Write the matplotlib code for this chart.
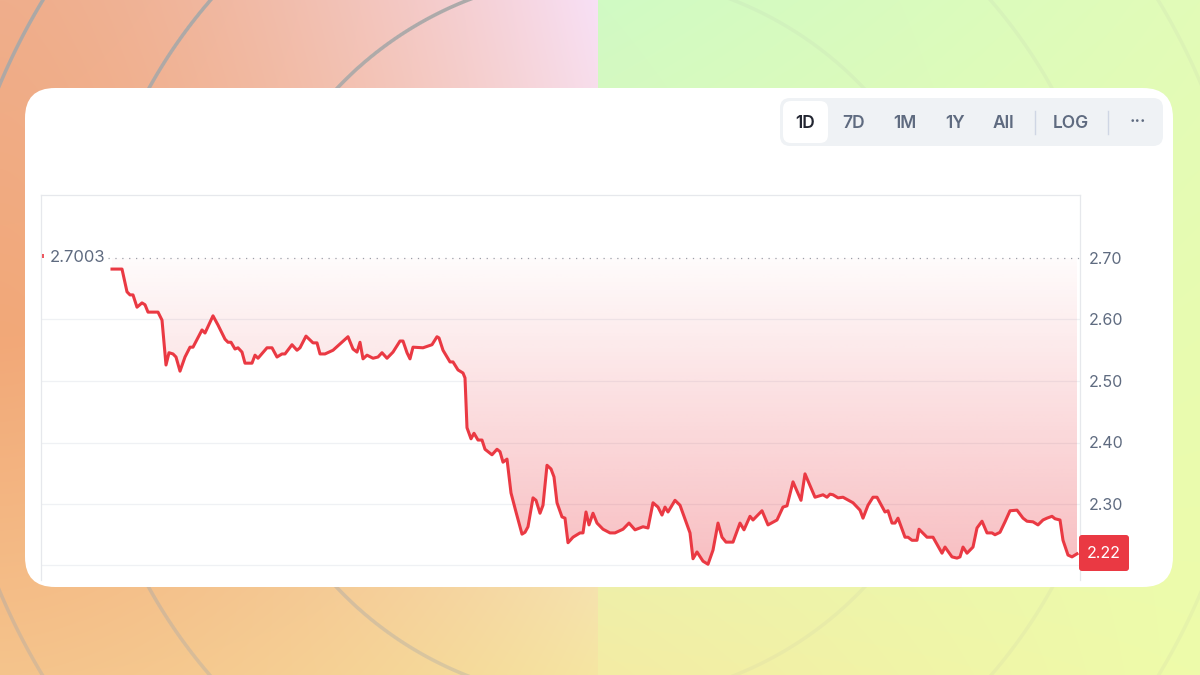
import matplotlib
matplotlib.use("Agg")
import matplotlib.pyplot as plt
import numpy as np
from matplotlib.patches import FancyBboxPatch, Polygon

plt.rcParams['font.family'] = ['Inter', 'DejaVu Sans']

# price trace (t = position along the day)
t = [112, 122, 127, 130, 133, 137, 142, 145, 148, 158, 162, 166, 169, 173, 176, 180, 185, 190, 193, 202,
     205, 213, 218, 225, 228, 231, 235, 238, 242, 245, 252, 255, 258, 267, 272, 277, 282, 285, 292, 297,
     300, 306, 313, 317, 320, 325, 333, 348, 353, 357, 360, 363, 367, 373, 378, 382, 387, 393, 400, 403,
     407, 410, 413, 423, 432, 437, 439, 443, 450, 453, 458, 463, 465, 467, 471, 474, 478, 482, 485, 492,
     497, 500, 503, 507, 511, 516, 522, 525, 528, 533, 536, 540, 543, 547, 551, 554, 557, 562, 565, 568,
     573, 580, 583, 586, 589, 593, 597, 603, 610, 615, 623, 629, 635, 643, 648, 653, 658, 662, 665, 668,
     675, 680, 690, 693, 697, 703, 708, 713, 718, 722, 726, 733, 740, 744, 750, 753, 762, 768, 777, 783,
     787, 793, 801, 805, 815, 823, 827, 830, 833, 838, 843, 853, 860, 863, 868, 873, 877, 885, 888, 892,
     895, 898, 905, 908, 912, 917, 919, 927, 933, 942, 945, 952, 957, 960, 963, 967, 973, 977, 982, 987,
     992, 995, 1000, 1005, 1010, 1017, 1023, 1027, 1033, 1038, 1043, 1047, 1052, 1055, 1060, 1063, 1068,
     1072, 1077]
price = [2.682, 2.682, 2.645, 2.640, 2.640, 2.620, 2.627, 2.624, 2.612, 2.612, 2.599, 2.526, 2.546, 2.544,
         2.539, 2.516, 2.539, 2.555, 2.555, 2.583, 2.578, 2.606, 2.591, 2.568, 2.563, 2.563, 2.552, 2.554,
         2.547, 2.529, 2.529, 2.542, 2.537, 2.554, 2.554, 2.539, 2.544, 2.544, 2.559, 2.550, 2.554, 2.573,
         2.562, 2.562, 2.544, 2.544, 2.550, 2.572, 2.552, 2.547, 2.563, 2.536, 2.542, 2.537, 2.539, 2.546,
         2.537, 2.547, 2.565, 2.565, 2.546, 2.536, 2.555, 2.554, 2.559, 2.572, 2.570, 2.550, 2.531, 2.531,
         2.518, 2.513, 2.505, 2.424, 2.406, 2.415, 2.404, 2.404, 2.389, 2.380, 2.389, 2.385, 2.368, 2.373,
         2.318, 2.287, 2.251, 2.254, 2.263, 2.310, 2.306, 2.285, 2.298, 2.363, 2.357, 2.344, 2.302, 2.279,
         2.277, 2.237, 2.246, 2.253, 2.253, 2.287, 2.266, 2.285, 2.269, 2.259, 2.253, 2.253, 2.259, 2.269,
         2.258, 2.263, 2.261, 2.302, 2.295, 2.282, 2.295, 2.287, 2.306, 2.298, 2.253, 2.211, 2.222, 2.207,
         2.202, 2.225, 2.269, 2.246, 2.238, 2.238, 2.269, 2.258, 2.280, 2.274, 2.289, 2.266, 2.274, 2.295,
         2.297, 2.336, 2.306, 2.349, 2.311, 2.315, 2.311, 2.316, 2.315, 2.310, 2.311, 2.302, 2.290, 2.277,
         2.298, 2.311, 2.311, 2.287, 2.289, 2.269, 2.269, 2.277, 2.246, 2.246, 2.241, 2.241, 2.259, 2.246,
         2.246, 2.220, 2.230, 2.214, 2.212, 2.214, 2.230, 2.220, 2.230, 2.261, 2.272, 2.253, 2.253, 2.250,
         2.254, 2.271, 2.289, 2.290, 2.277, 2.272, 2.271, 2.266, 2.274, 2.277, 2.280, 2.276, 2.274, 2.241,
         2.217, 2.214, 2.219]
open_price = 2.7003
last_label = '2.22'
yticks = [2.30, 2.40, 2.50, 2.60, 2.70]
gridlines = [2.20, 2.30, 2.40, 2.50, 2.60]
buttons = ['1D', '7D', '1M', '1Y', 'All', 'LOG', '\u00b7\u00b7\u00b7']

RED = '#ea3943'
GREY_TXT = '#5f6b80'

W, H = 1200, 675
fig = plt.figure(figsize=(12, 6.75), dpi=100)


def rgb(h):
    return np.array([int(h[i:i + 2], 16) for i in (1, 3, 5)]) / 255.0


# ---- decorative background -------------------------------------------------
yy, xx = np.mgrid[0:H, 0:W].astype(float)
img = np.zeros((H, W, 3))
ys = [0, 337, 675]
l_left = [rgb(c) for c in ['#efae8c', '#f2a878', '#f5c48c']]
l_right = [rgb(c) for c in ['#f8e0f6', '#f6d8d0', '#f6e6a2']]
r_left = [rgb(c) for c in ['#d0fac4', '#e0f9b8', '#f4eca4']]
r_right = [rgb(c) for c in ['#e2fcb8', '#e8fcb0', '#eefcaa']]
s_l = np.clip(xx / 598, 0, 1) ** 1.6
s_r = np.clip((xx - 598) / 602, 0, 1)
left = xx < 598
for ch in range(3):
    a = np.interp(yy, ys, [c[ch] for c in l_left])
    b = np.interp(yy, ys, [c[ch] for c in l_right])
    c = np.interp(yy, ys, [k[ch] for k in r_left])
    d = np.interp(yy, ys, [k[ch] for k in r_right])
    img[..., ch] = np.where(left, a * (1 - s_l) + b * s_l, c * (1 - s_r) + d * s_r)

dist = np.hypot(xx - 600, yy - 337.5)
ring = np.zeros((H, W))
for r in (363, 516, 652):
    ring = np.maximum(ring, np.clip(2.3 - np.abs(dist - r), 0, 1))
ring_alpha = np.where(left, 0.95 - 0.6 * yy / H, 0.1) * ring
img = img * (1 - ring_alpha[..., None]) + 0.66 * ring_alpha[..., None]

bg = fig.add_axes([0, 0, 1, 1])
bg.imshow(img, extent=[0, W, H, 0], aspect='auto', interpolation='bilinear')
bg.set_xlim(0, W)
bg.set_ylim(H, 0)
bg.axis('off')

# card
bg.add_patch(FancyBboxPatch((25, 88), 1148, 499, boxstyle='round,pad=0,rounding_size=30',
                            facecolor='white', edgecolor='none', zorder=2))

# range buttons
bg.add_patch(FancyBboxPatch((780, 98), 383, 48, boxstyle='round,pad=0,rounding_size=10',
                            facecolor='#eff2f5', edgecolor='none', zorder=3))
bg.add_patch(FancyBboxPatch((783, 101), 45, 42, boxstyle='round,pad=0,rounding_size=8',
                            facecolor='white', edgecolor='none', zorder=4))
btn_x = [805, 854, 905, 955, 1003, 1071, 1138]
for lab, bx in zip(buttons, btn_x):
    bg.text(bx, 123, lab, ha='center', va='center', fontsize=12.5, fontweight='semibold',
            color='#222531' if lab == '1D' else GREY_TXT, zorder=5)
for sx in (1035, 1108):
    bg.plot([sx, sx], [111, 134], color='#cfd6e4', lw=1, zorder=5)

# ---- price chart -------------------------------------------------------------
ax = fig.add_axes([41 / W, 1 - 580 / H, (1080 - 41) / W, (580 - 195) / H])
ax.set_facecolor('none')
ax.set_xlim(41, 1080)
y_top = 2.70 + (258 - 195) / 615
y_bot = 2.70 - (580 - 258) / 615
ax.set_ylim(y_bot, y_top)

for g in gridlines:
    ax.axhline(g, color='#eff1f4', lw=0.9, zorder=1)
ax.plot([108, 1080], [open_price, open_price], color='#9ba1ab', lw=0.9,
        linestyle=(0, (1, 4.5)), zorder=2)

# gradient fill between the trace and the open price
verts = list(zip(t, price)) + [(t[-1], open_price), (t[0], open_price)]
clip = Polygon(verts, closed=True, facecolor='none', edgecolor='none', transform=ax.transData)
ax.add_patch(clip)
grad = np.zeros((200, 2, 4))
grad[..., :3] = rgb(RED)
grad[..., 3] = np.linspace(0.34, 0.02, 200)[:, None]
im = ax.imshow(grad, extent=[41, 1080, 2.18, open_price], aspect='auto', origin='lower',
               interpolation='bilinear', zorder=2)
im.set_clip_path(clip)

ax.plot(t, price, color=RED, lw=2.2, solid_joinstyle='round', zorder=4)

ax.plot([42.5], [open_price + 0.003], marker='|', ms=3, color=RED, mew=1.2, zorder=4)
ax.text(50, open_price, f'{open_price:.4f}', ha='left', va='center', fontsize=12,
        color=GREY_TXT, zorder=5)

ax.set_xticks([])
ax.yaxis.tick_right()
ax.set_yticks(yticks)
ax.set_yticklabels([f'{v:.2f}' for v in yticks])
ax.tick_params(axis='y', length=0, pad=6, labelsize=11.5, labelcolor=GREY_TXT)
for side in ('left', 'top', 'right'):
    ax.spines[side].set_color('#e6e8ec')
    ax.spines[side].set_linewidth(0.9)
ax.spines['bottom'].set_visible(False)

bg.set_zorder(0)
ax.set_zorder(1)

# last price tag, kept above the chart
tag_ax = fig.add_axes([0, 0, 1, 1], zorder=2)
tag_ax.set_xlim(0, W)
tag_ax.set_ylim(H, 0)
tag_ax.axis('off')
tag_ax.add_patch(FancyBboxPatch((1079, 535), 50, 36, boxstyle='round,pad=0,rounding_size=3',
                                facecolor=RED, edgecolor='none'))
tag_ax.text(1104, 553.5, last_label, ha='center', va='center', fontsize=11.5, color='white')

fig.savefig('out.png', dpi=100)
